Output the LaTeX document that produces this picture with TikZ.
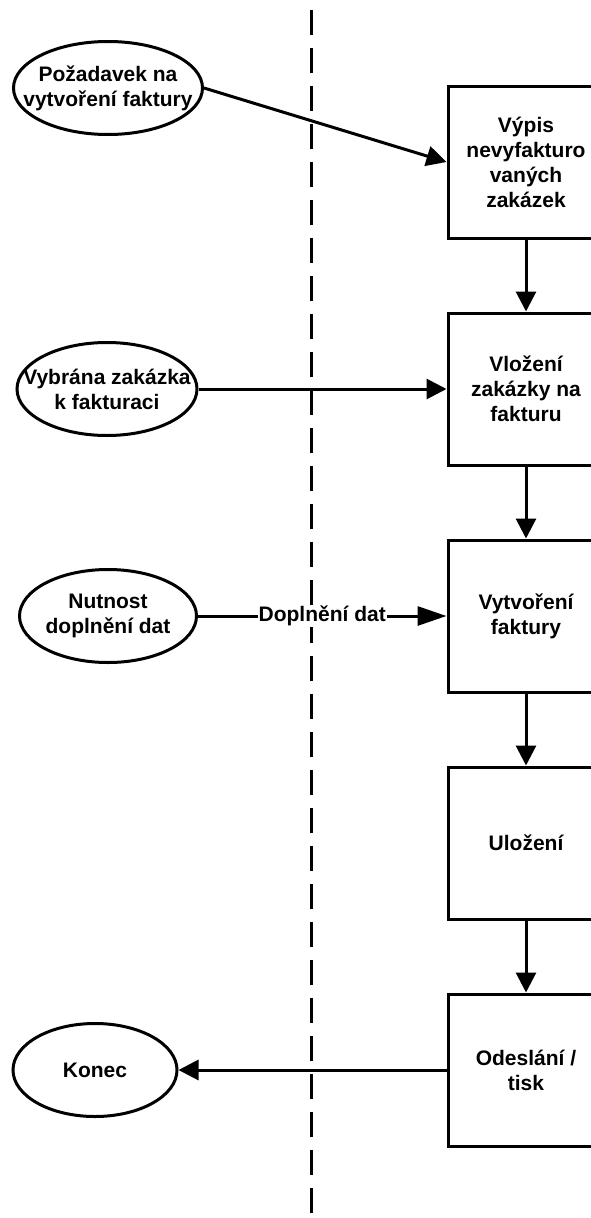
\documentclass[tikz,border=0pt]{standalone}
\usepackage{fontspec}
\setmainfont{Liberation Sans}
\usetikzlibrary{shapes.geometric,arrows.meta}

\begin{document}
\begin{tikzpicture}[x=1pt,y=-1pt,line width=3pt,
    every node/.style={align=center,font=\fontsize{21}{25}\selectfont\bfseries},
    krok/.style={draw,rectangle,minimum width=156pt,minimum height=152pt,inner sep=0pt},
    udalost/.style={draw,ellipse,minimum width=189pt,minimum height=93pt,inner xsep=-40pt,inner ysep=-20pt},
    sip/.style={-{Triangle[length=20pt,width=20pt]}}]
    \useasboundingbox (0,0) rectangle (591,1218);
    \draw[dash pattern=on 25pt off 13pt] (311,10) -- (311,1218);
    \node[krok] (vypis) at (526,162) {Výpis\\nevyfakturo\\vaných\\zakázek};
    \node[krok] (vlozeni) at (526,389) {Vložení\\zakázky na\\fakturu};
    \node[krok] (vytvoreni) at (526,616) {Vytvoření\\faktury};
    \node[krok] (ulozeni) at (526,843) {Uložení};
    \node[krok] (odeslani) at (526,1070) {Odeslání /\\tisk};
    \node[udalost] (pozadavek) at (108,88) {Požadavek na\\vytvoření faktury};
    \node[udalost,minimum width=180pt] (vybrana) at (107,389) {Vybrána zakázka\\k fakturaci};
    \node[udalost,minimum width=177pt] (nutnost) at (108,616) {Nutnost\\doplnění dat};
    \node[udalost,minimum width=164pt] (konec) at (95,1070) {Konec};
    \draw[sip] (pozadavek.east) -- (vypis.west);
    \draw[sip] (vypis) -- (vlozeni);
    \draw[sip] (vlozeni) -- (vytvoreni);
    \draw[sip] (vytvoreni) -- (ulozeni);
    \draw[sip] (ulozeni) -- (odeslani);
    \draw[sip] (vybrana) -- (vlozeni);
    \draw[-{Triangle[length=29pt,width=19pt]}] (nutnost) -- node[fill=white,inner sep=1pt] {Doplnění dat} (vytvoreni);
    \draw[sip] (odeslani) -- (konec);
\end{tikzpicture}
\end{document}
